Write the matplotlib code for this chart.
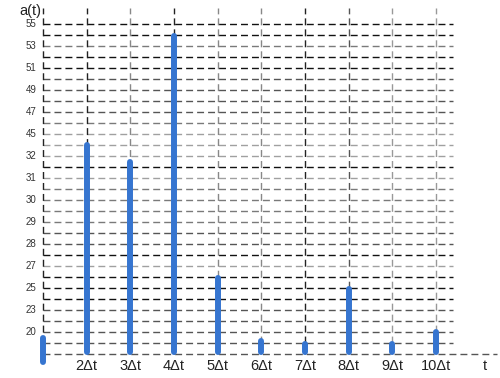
import matplotlib
matplotlib.use("Agg")
import matplotlib.pyplot as plt

plt.rcParams['font.family'] = ['Liberation Sans', 'DejaVu Sans']
plt.rcParams['lines.scale_dashes'] = False

# bar positions (multiples of dt) and heights in grid steps
steps = [1, 2, 3, 4, 5, 6, 7, 8, 9, 10]
tops = [1.45, 19.0, 17.45, 28.9, 6.9, 1.2, 0.9, 5.9, 0.9, 2.0]
bottoms = [-0.7, 0.2, 0.2, 0.2, 0.2, 0.2, 0.2, 0.2, 0.2, 0.2]

# y tick labels, one every two grid steps starting at step 2
ylabels = ["20", "23", "25", "27", "28", "29", "30", "31", "32",
           "45", "47", "49", "51", "53", "55"]
xlabels = ["", "2\u0394t", "3\u0394t", "4\u0394t", "5\u0394t",
           "6\u0394t", "7\u0394t", "8\u0394t", "9\u0394t", "10\u0394t"]

# colours of the horizontal grid lines, top (step 30) to bottom (step 0)
K, D, M, G = '#111111', '#555555', '#7a7a7a', '#a0a0a0'
hcolors = [K, K, M, K, K, D, D, D, D, M, G, G, G, K, G,
           M, M, M, M, D, D, K, G, K, K, K, D, D, D, D, D]
vcolors = ['#222222', '#222222', '#888888', '#222222', '#888888',
           '#888888', '#222222', '#555555', '#999999', '#999999']

fig = plt.figure(figsize=(5, 3.78), dpi=100)
ax = fig.add_axes([0, 0, 1, 1])
ax.set_xlim(1 - 43 / 43.67, 1 + 457 / 43.67)
ax.set_ylim(-24 / 11, 354 / 11)
ax.axis('off')

dash = (0, (5, 2.9))

# horizontal grid
for i, c in enumerate(hcolors):
    k = 30 - i
    x_end = 11.4 if k == 0 else 10.4
    ax.plot([1, x_end], [k, k], color=c, lw=1.0, ls=dash, zorder=1)

# vertical grid
for s, c in zip(steps, vcolors):
    ax.plot([s, s], [0, 31.5], color=c, lw=1.0, ls=dash, zorder=1)

# bars
for s, b, t in zip(steps, bottoms, tops):
    ax.plot([s, s], [b, t], color='#3675d0', lw=4.3,
            solid_capstyle='round', zorder=3)

# labels
for j, lab in enumerate(ylabels):
    ax.text(0.85, 2 + 2 * j, lab, ha='right', va='center',
            fontsize=7, color='#333333')
for s, lab in zip(steps, xlabels):
    ax.text(s, -1.05, lab, ha='center', va='center', fontsize=10.5,
            color='#222222')
ax.text(11.12, -1.05, "t", ha='center', va='center', fontsize=10.5,
        color='#222222')
ax.text(0.96, 31.2, "a(t)", ha='right', va='center', fontsize=10.5,
        color='#222222')

fig.savefig("out.png", dpi=100)
